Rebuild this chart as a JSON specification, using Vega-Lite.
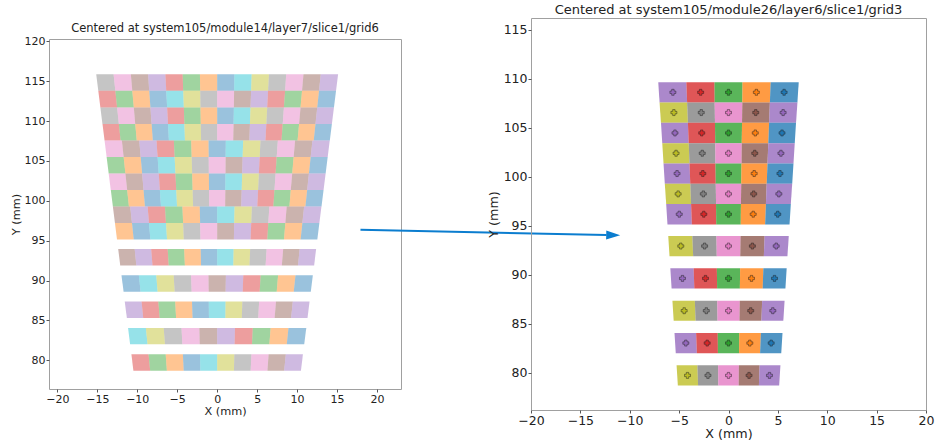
{
"$schema": "https://vega.github.io/schema/vega-lite/v6.json",
"background": "white",
"padding": {"left": 9, "top": 3, "right": 0, "bottom": 0},
"bounds": "flush",
"center": true,
"spacing": 130,
"config": {
  "font": "DejaVu Sans",
  "view": {"stroke": "#a0a0a0", "strokeWidth": 1},
  "axis": {"grid": false, "domain": false, "ticks": true, "tickColor": "#555", "tickSize": 3, "labelColor": "#222", "titleColor": "#222", "titleFontWeight": "normal", "labelPadding": 1, "labelFlush": false, "labelOverlap": false},
  "title": {"fontWeight": "normal", "color": "#222", "offset": 1, "frame": "group", "anchor": "middle"}
},
"datasets": {
"A": [{"x": 17.93, "y": 96.36, "x2": 48.71, "y2": 95.73, "hx": 49.55, "hy": 95.71}],
"L": [
{"i":1,"c":7,"y":[113.8,115.87],"a":[-14.87,-15.13],"b":[-12.74,-12.96]},
{"i":2,"c":6,"y":[113.8,115.87],"a":[-12.74,-12.96],"b":[-10.62,-10.8]},
{"i":3,"c":5,"y":[113.8,115.87],"a":[-10.62,-10.8],"b":[-8.5,-8.64]},
{"i":4,"c":4,"y":[113.8,115.87],"a":[-8.5,-8.64],"b":[-6.37,-6.48]},
{"i":5,"c":3,"y":[113.8,115.87],"a":[-6.37,-6.48],"b":[-4.25,-4.32]},
{"i":6,"c":2,"y":[113.8,115.87],"a":[-4.25,-4.32],"b":[-2.12,-2.16]},
{"i":7,"c":1,"y":[113.8,115.87],"a":[-2.12,-2.16],"b":[0,0]},
{"i":8,"c":0,"y":[113.8,115.87],"a":[0,0],"b":[2.12,2.16]},
{"i":9,"c":9,"y":[113.8,115.87],"a":[2.12,2.16],"b":[4.25,4.32]},
{"i":10,"c":8,"y":[113.8,115.87],"a":[4.25,4.32],"b":[6.37,6.48]},
{"i":11,"c":7,"y":[113.8,115.87],"a":[6.37,6.48],"b":[8.5,8.64]},
{"i":12,"c":6,"y":[113.8,115.87],"a":[8.5,8.64],"b":[10.62,10.8]},
{"i":13,"c":5,"y":[113.8,115.87],"a":[10.62,10.8],"b":[12.74,12.96]},
{"i":14,"c":4,"y":[113.8,115.87],"a":[12.74,12.96],"b":[14.87,15.13]},
{"i":15,"c":3,"y":[111.72,113.8],"a":[-14.61,-14.87],"b":[-12.52,-12.74]},
{"i":16,"c":2,"y":[111.72,113.8],"a":[-12.52,-12.74],"b":[-10.43,-10.62]},
{"i":17,"c":1,"y":[111.72,113.8],"a":[-10.43,-10.62],"b":[-8.35,-8.5]},
{"i":18,"c":0,"y":[111.72,113.8],"a":[-8.35,-8.5],"b":[-6.26,-6.37]},
{"i":19,"c":9,"y":[111.72,113.8],"a":[-6.26,-6.37],"b":[-4.17,-4.25]},
{"i":20,"c":8,"y":[111.72,113.8],"a":[-4.17,-4.25],"b":[-2.09,-2.12]},
{"i":21,"c":7,"y":[111.72,113.8],"a":[-2.09,-2.12],"b":[0,0]},
{"i":22,"c":6,"y":[111.72,113.8],"a":[0,0],"b":[2.09,2.12]},
{"i":23,"c":5,"y":[111.72,113.8],"a":[2.09,2.12],"b":[4.17,4.25]},
{"i":24,"c":4,"y":[111.72,113.8],"a":[4.17,4.25],"b":[6.26,6.37]},
{"i":25,"c":3,"y":[111.72,113.8],"a":[6.26,6.37],"b":[8.35,8.5]},
{"i":26,"c":2,"y":[111.72,113.8],"a":[8.35,8.5],"b":[10.43,10.62]},
{"i":27,"c":1,"y":[111.72,113.8],"a":[10.43,10.62],"b":[12.52,12.74]},
{"i":28,"c":0,"y":[111.72,113.8],"a":[12.52,12.74],"b":[14.61,14.87]},
{"i":29,"c":7,"y":[109.65,111.72],"a":[-14.35,-14.61],"b":[-12.3,-12.52]},
{"i":30,"c":6,"y":[109.65,111.72],"a":[-12.3,-12.52],"b":[-10.25,-10.43]},
{"i":31,"c":5,"y":[109.65,111.72],"a":[-10.25,-10.43],"b":[-8.2,-8.35]},
{"i":32,"c":4,"y":[109.65,111.72],"a":[-8.2,-8.35],"b":[-6.15,-6.26]},
{"i":33,"c":3,"y":[109.65,111.72],"a":[-6.15,-6.26],"b":[-4.1,-4.17]},
{"i":34,"c":2,"y":[109.65,111.72],"a":[-4.1,-4.17],"b":[-2.05,-2.09]},
{"i":35,"c":1,"y":[109.65,111.72],"a":[-2.05,-2.09],"b":[0,0]},
{"i":36,"c":0,"y":[109.65,111.72],"a":[0,0],"b":[2.05,2.09]},
{"i":37,"c":9,"y":[109.65,111.72],"a":[2.05,2.09],"b":[4.1,4.17]},
{"i":38,"c":8,"y":[109.65,111.72],"a":[4.1,4.17],"b":[6.15,6.26]},
{"i":39,"c":7,"y":[109.65,111.72],"a":[6.15,6.26],"b":[8.2,8.35]},
{"i":40,"c":6,"y":[109.65,111.72],"a":[8.2,8.35],"b":[10.25,10.43]},
{"i":41,"c":5,"y":[109.65,111.72],"a":[10.25,10.43],"b":[12.3,12.52]},
{"i":42,"c":4,"y":[109.65,111.72],"a":[12.3,12.52],"b":[14.35,14.61]},
{"i":43,"c":3,"y":[107.58,109.65],"a":[-14.09,-14.35],"b":[-12.08,-12.3]},
{"i":44,"c":2,"y":[107.58,109.65],"a":[-12.08,-12.3],"b":[-10.06,-10.25]},
{"i":45,"c":1,"y":[107.58,109.65],"a":[-10.06,-10.25],"b":[-8.05,-8.2]},
{"i":46,"c":0,"y":[107.58,109.65],"a":[-8.05,-8.2],"b":[-6.04,-6.15]},
{"i":47,"c":9,"y":[107.58,109.65],"a":[-6.04,-6.15],"b":[-4.03,-4.1]},
{"i":48,"c":8,"y":[107.58,109.65],"a":[-4.03,-4.1],"b":[-2.01,-2.05]},
{"i":49,"c":7,"y":[107.58,109.65],"a":[-2.01,-2.05],"b":[0,0]},
{"i":50,"c":6,"y":[107.58,109.65],"a":[0,0],"b":[2.01,2.05]},
{"i":51,"c":5,"y":[107.58,109.65],"a":[2.01,2.05],"b":[4.03,4.1]},
{"i":52,"c":4,"y":[107.58,109.65],"a":[4.03,4.1],"b":[6.04,6.15]},
{"i":53,"c":3,"y":[107.58,109.65],"a":[6.04,6.15],"b":[8.05,8.2]},
{"i":54,"c":2,"y":[107.58,109.65],"a":[8.05,8.2],"b":[10.06,10.25]},
{"i":55,"c":1,"y":[107.58,109.65],"a":[10.06,10.25],"b":[12.08,12.3]},
{"i":56,"c":0,"y":[107.58,109.65],"a":[12.08,12.3],"b":[14.09,14.35]},
{"i":57,"c":6,"y":[105.51,107.58],"a":[-13.83,-14.09],"b":[-11.7,-11.92]},
{"i":58,"c":5,"y":[105.51,107.58],"a":[-11.7,-11.92],"b":[-9.57,-9.75]},
{"i":59,"c":4,"y":[105.51,107.58],"a":[-9.57,-9.75],"b":[-7.45,-7.59]},
{"i":60,"c":3,"y":[105.51,107.58],"a":[-7.45,-7.59],"b":[-5.32,-5.42]},
{"i":61,"c":2,"y":[105.51,107.58],"a":[-5.32,-5.42],"b":[-3.19,-3.25]},
{"i":62,"c":1,"y":[105.51,107.58],"a":[-3.19,-3.25],"b":[-1.06,-1.08]},
{"i":63,"c":0,"y":[105.51,107.58],"a":[-1.06,-1.08],"b":[1.06,1.08]},
{"i":64,"c":9,"y":[105.51,107.58],"a":[1.06,1.08],"b":[3.19,3.25]},
{"i":65,"c":8,"y":[105.51,107.58],"a":[3.19,3.25],"b":[5.32,5.42]},
{"i":66,"c":7,"y":[105.51,107.58],"a":[5.32,5.42],"b":[7.45,7.59]},
{"i":67,"c":6,"y":[105.51,107.58],"a":[7.45,7.59],"b":[9.57,9.75]},
{"i":68,"c":5,"y":[105.51,107.58],"a":[9.57,9.75],"b":[11.7,11.92]},
{"i":69,"c":4,"y":[105.51,107.58],"a":[11.7,11.92],"b":[13.83,14.09]},
{"i":70,"c":2,"y":[103.43,105.51],"a":[-13.57,-13.83],"b":[-11.48,-11.7]},
{"i":71,"c":1,"y":[103.43,105.51],"a":[-11.48,-11.7],"b":[-9.39,-9.57]},
{"i":72,"c":0,"y":[103.43,105.51],"a":[-9.39,-9.57],"b":[-7.31,-7.45]},
{"i":73,"c":9,"y":[103.43,105.51],"a":[-7.31,-7.45],"b":[-5.22,-5.32]},
{"i":74,"c":8,"y":[103.43,105.51],"a":[-5.22,-5.32],"b":[-3.13,-3.19]},
{"i":75,"c":7,"y":[103.43,105.51],"a":[-3.13,-3.19],"b":[-1.04,-1.06]},
{"i":76,"c":6,"y":[103.43,105.51],"a":[-1.04,-1.06],"b":[1.04,1.06]},
{"i":77,"c":5,"y":[103.43,105.51],"a":[1.04,1.06],"b":[3.13,3.19]},
{"i":78,"c":4,"y":[103.43,105.51],"a":[3.13,3.19],"b":[5.22,5.32]},
{"i":79,"c":3,"y":[103.43,105.51],"a":[5.22,5.32],"b":[7.31,7.45]},
{"i":80,"c":2,"y":[103.43,105.51],"a":[7.31,7.45],"b":[9.39,9.57]},
{"i":81,"c":1,"y":[103.43,105.51],"a":[9.39,9.57],"b":[11.48,11.7]},
{"i":82,"c":0,"y":[103.43,105.51],"a":[11.48,11.7],"b":[13.57,13.83]},
{"i":83,"c":6,"y":[101.36,103.43],"a":[-13.31,-13.57],"b":[-11.26,-11.48]},
{"i":84,"c":5,"y":[101.36,103.43],"a":[-11.26,-11.48],"b":[-9.21,-9.39]},
{"i":85,"c":4,"y":[101.36,103.43],"a":[-9.21,-9.39],"b":[-7.17,-7.31]},
{"i":86,"c":3,"y":[101.36,103.43],"a":[-7.17,-7.31],"b":[-5.12,-5.22]},
{"i":87,"c":2,"y":[101.36,103.43],"a":[-5.12,-5.22],"b":[-3.07,-3.13]},
{"i":88,"c":1,"y":[101.36,103.43],"a":[-3.07,-3.13],"b":[-1.02,-1.04]},
{"i":89,"c":0,"y":[101.36,103.43],"a":[-1.02,-1.04],"b":[1.02,1.04]},
{"i":90,"c":9,"y":[101.36,103.43],"a":[1.02,1.04],"b":[3.07,3.13]},
{"i":91,"c":8,"y":[101.36,103.43],"a":[3.07,3.13],"b":[5.12,5.22]},
{"i":92,"c":7,"y":[101.36,103.43],"a":[5.12,5.22],"b":[7.17,7.31]},
{"i":93,"c":6,"y":[101.36,103.43],"a":[7.17,7.31],"b":[9.21,9.39]},
{"i":94,"c":5,"y":[101.36,103.43],"a":[9.21,9.39],"b":[11.26,11.48]},
{"i":95,"c":4,"y":[101.36,103.43],"a":[11.26,11.48],"b":[13.31,13.57]},
{"i":96,"c":2,"y":[99.29,101.36],"a":[-13.05,-13.31],"b":[-11.04,-11.26]},
{"i":97,"c":1,"y":[99.29,101.36],"a":[-11.04,-11.26],"b":[-9.04,-9.21]},
{"i":98,"c":0,"y":[99.29,101.36],"a":[-9.04,-9.21],"b":[-7.03,-7.17]},
{"i":99,"c":9,"y":[99.29,101.36],"a":[-7.03,-7.17],"b":[-5.02,-5.12]},
{"i":100,"c":8,"y":[99.29,101.36],"a":[-5.02,-5.12],"b":[-3.01,-3.07]},
{"i":101,"c":7,"y":[99.29,101.36],"a":[-3.01,-3.07],"b":[-1,-1.02]},
{"i":102,"c":6,"y":[99.29,101.36],"a":[-1,-1.02],"b":[1,1.02]},
{"i":103,"c":5,"y":[99.29,101.36],"a":[1,1.02],"b":[3.01,3.07]},
{"i":104,"c":4,"y":[99.29,101.36],"a":[3.01,3.07],"b":[5.02,5.12]},
{"i":105,"c":3,"y":[99.29,101.36],"a":[5.02,5.12],"b":[7.03,7.17]},
{"i":106,"c":2,"y":[99.29,101.36],"a":[7.03,7.17],"b":[9.04,9.21]},
{"i":107,"c":1,"y":[99.29,101.36],"a":[9.04,9.21],"b":[11.04,11.26]},
{"i":108,"c":0,"y":[99.29,101.36],"a":[11.04,11.26],"b":[13.05,13.31]},
{"i":109,"c":5,"y":[97.21,99.29],"a":[-12.79,-13.05],"b":[-10.66,-10.88]},
{"i":110,"c":4,"y":[97.21,99.29],"a":[-10.66,-10.88],"b":[-8.53,-8.7]},
{"i":111,"c":3,"y":[97.21,99.29],"a":[-8.53,-8.7],"b":[-6.4,-6.53]},
{"i":112,"c":2,"y":[97.21,99.29],"a":[-6.4,-6.53],"b":[-4.26,-4.35]},
{"i":113,"c":1,"y":[97.21,99.29],"a":[-4.26,-4.35],"b":[-2.13,-2.18]},
{"i":114,"c":0,"y":[97.21,99.29],"a":[-2.13,-2.18],"b":[0,0]},
{"i":115,"c":9,"y":[97.21,99.29],"a":[0,0],"b":[2.13,2.18]},
{"i":116,"c":8,"y":[97.21,99.29],"a":[2.13,2.18],"b":[4.26,4.35]},
{"i":117,"c":7,"y":[97.21,99.29],"a":[4.26,4.35],"b":[6.4,6.53]},
{"i":118,"c":6,"y":[97.21,99.29],"a":[6.4,6.53],"b":[8.53,8.7]},
{"i":119,"c":5,"y":[97.21,99.29],"a":[8.53,8.7],"b":[10.66,10.88]},
{"i":120,"c":4,"y":[97.21,99.29],"a":[10.66,10.88],"b":[12.79,13.05]},
{"i":121,"c":1,"y":[95.14,97.21],"a":[-12.53,-12.79],"b":[-10.44,-10.66]},
{"i":122,"c":0,"y":[95.14,97.21],"a":[-10.44,-10.66],"b":[-8.36,-8.53]},
{"i":123,"c":9,"y":[95.14,97.21],"a":[-8.36,-8.53],"b":[-6.27,-6.4]},
{"i":124,"c":8,"y":[95.14,97.21],"a":[-6.27,-6.4],"b":[-4.18,-4.26]},
{"i":125,"c":7,"y":[95.14,97.21],"a":[-4.18,-4.26],"b":[-2.09,-2.13]},
{"i":126,"c":6,"y":[95.14,97.21],"a":[-2.09,-2.13],"b":[0,0]},
{"i":127,"c":5,"y":[95.14,97.21],"a":[0,0],"b":[2.09,2.13]},
{"i":128,"c":4,"y":[95.14,97.21],"a":[2.09,2.13],"b":[4.18,4.26]},
{"i":129,"c":3,"y":[95.14,97.21],"a":[4.18,4.26],"b":[6.27,6.4]},
{"i":130,"c":2,"y":[95.14,97.21],"a":[6.27,6.4],"b":[8.36,8.53]},
{"i":131,"c":1,"y":[95.14,97.21],"a":[8.36,8.53],"b":[10.44,10.66]},
{"i":132,"c":0,"y":[95.14,97.21],"a":[10.44,10.66],"b":[12.53,12.79]},
{"i":133,"c":5,"y":[91.9,93.96],"a":[-12.13,-12.38],"b":[-10.11,-10.32]},
{"i":134,"c":4,"y":[91.9,93.96],"a":[-10.11,-10.32],"b":[-8.09,-8.26]},
{"i":135,"c":3,"y":[91.9,93.96],"a":[-8.09,-8.26],"b":[-6.06,-6.19]},
{"i":136,"c":2,"y":[91.9,93.96],"a":[-6.06,-6.19],"b":[-4.04,-4.13]},
{"i":137,"c":1,"y":[91.9,93.96],"a":[-4.04,-4.13],"b":[-2.02,-2.06]},
{"i":138,"c":0,"y":[91.9,93.96],"a":[-2.02,-2.06],"b":[0,0]},
{"i":139,"c":9,"y":[91.9,93.96],"a":[0,0],"b":[2.02,2.06]},
{"i":140,"c":8,"y":[91.9,93.96],"a":[2.02,2.06],"b":[4.04,4.13]},
{"i":141,"c":7,"y":[91.9,93.96],"a":[4.04,4.13],"b":[6.06,6.19]},
{"i":142,"c":6,"y":[91.9,93.96],"a":[6.06,6.19],"b":[8.09,8.26]},
{"i":143,"c":5,"y":[91.9,93.96],"a":[8.09,8.26],"b":[10.11,10.32]},
{"i":144,"c":4,"y":[91.9,93.96],"a":[10.11,10.32],"b":[12.13,12.38]},
{"i":145,"c":0,"y":[88.6,90.66],"a":[-11.71,-11.97],"b":[-9.58,-9.8]},
{"i":146,"c":9,"y":[88.6,90.66],"a":[-9.58,-9.8],"b":[-7.45,-7.62]},
{"i":147,"c":8,"y":[88.6,90.66],"a":[-7.45,-7.62],"b":[-5.32,-5.44]},
{"i":148,"c":7,"y":[88.6,90.66],"a":[-5.32,-5.44],"b":[-3.19,-3.27]},
{"i":149,"c":6,"y":[88.6,90.66],"a":[-3.19,-3.27],"b":[-1.06,-1.09]},
{"i":150,"c":5,"y":[88.6,90.66],"a":[-1.06,-1.09],"b":[1.06,1.09]},
{"i":151,"c":4,"y":[88.6,90.66],"a":[1.06,1.09],"b":[3.19,3.27]},
{"i":152,"c":3,"y":[88.6,90.66],"a":[3.19,3.27],"b":[5.32,5.44]},
{"i":153,"c":2,"y":[88.6,90.66],"a":[5.32,5.44],"b":[7.45,7.62]},
{"i":154,"c":1,"y":[88.6,90.66],"a":[7.45,7.62],"b":[9.58,9.8]},
{"i":155,"c":0,"y":[88.6,90.66],"a":[9.58,9.8],"b":[11.71,11.97]},
{"i":156,"c":4,"y":[85.3,87.36],"a":[-11.3,-11.56],"b":[-9.25,-9.46]},
{"i":157,"c":3,"y":[85.3,87.36],"a":[-9.25,-9.46],"b":[-7.19,-7.36]},
{"i":158,"c":2,"y":[85.3,87.36],"a":[-7.19,-7.36],"b":[-5.14,-5.25]},
{"i":159,"c":1,"y":[85.3,87.36],"a":[-5.14,-5.25],"b":[-3.08,-3.15]},
{"i":160,"c":0,"y":[85.3,87.36],"a":[-3.08,-3.15],"b":[-1.03,-1.05]},
{"i":161,"c":9,"y":[85.3,87.36],"a":[-1.03,-1.05],"b":[1.03,1.05]},
{"i":162,"c":8,"y":[85.3,87.36],"a":[1.03,1.05],"b":[3.08,3.15]},
{"i":163,"c":7,"y":[85.3,87.36],"a":[3.08,3.15],"b":[5.14,5.25]},
{"i":164,"c":6,"y":[85.3,87.36],"a":[5.14,5.25],"b":[7.19,7.36]},
{"i":165,"c":5,"y":[85.3,87.36],"a":[7.19,7.36],"b":[9.25,9.46]},
{"i":166,"c":4,"y":[85.3,87.36],"a":[9.25,9.46],"b":[11.3,11.56]},
{"i":167,"c":9,"y":[82,84.06],"a":[-10.89,-11.15],"b":[-8.71,-8.92]},
{"i":168,"c":8,"y":[82,84.06],"a":[-8.71,-8.92],"b":[-6.53,-6.69]},
{"i":169,"c":7,"y":[82,84.06],"a":[-6.53,-6.69],"b":[-4.36,-4.46]},
{"i":170,"c":6,"y":[82,84.06],"a":[-4.36,-4.46],"b":[-2.18,-2.23]},
{"i":171,"c":5,"y":[82,84.06],"a":[-2.18,-2.23],"b":[0,0]},
{"i":172,"c":4,"y":[82,84.06],"a":[0,0],"b":[2.18,2.23]},
{"i":173,"c":3,"y":[82,84.06],"a":[2.18,2.23],"b":[4.36,4.46]},
{"i":174,"c":2,"y":[82,84.06],"a":[4.36,4.46],"b":[6.53,6.69]},
{"i":175,"c":1,"y":[82,84.06],"a":[6.53,6.69],"b":[8.71,8.92]},
{"i":176,"c":0,"y":[82,84.06],"a":[8.71,8.92],"b":[10.89,11.15]},
{"i":177,"c":3,"y":[78.7,80.76],"a":[-10.48,-10.73],"b":[-8.38,-8.59]},
{"i":178,"c":2,"y":[78.7,80.76],"a":[-8.38,-8.59],"b":[-6.29,-6.44]},
{"i":179,"c":1,"y":[78.7,80.76],"a":[-6.29,-6.44],"b":[-4.19,-4.29]},
{"i":180,"c":0,"y":[78.7,80.76],"a":[-4.19,-4.29],"b":[-2.1,-2.15]},
{"i":181,"c":9,"y":[78.7,80.76],"a":[-2.1,-2.15],"b":[0,0]},
{"i":182,"c":8,"y":[78.7,80.76],"a":[0,0],"b":[2.1,2.15]},
{"i":183,"c":7,"y":[78.7,80.76],"a":[2.1,2.15],"b":[4.19,4.29]},
{"i":184,"c":6,"y":[78.7,80.76],"a":[4.19,4.29],"b":[6.29,6.44]},
{"i":185,"c":5,"y":[78.7,80.76],"a":[6.29,6.44],"b":[8.38,8.59]},
{"i":186,"c":4,"y":[78.7,80.76],"a":[8.38,8.59],"b":[10.48,10.73]}
],
"R": [
{"i":1,"c":4,"y":[107.58,109.65],"a":[-6.98,-7.11],"b":[-4.19,-4.27],"x":-5.63,"v":108.62},
{"i":2,"c":3,"y":[107.58,109.65],"a":[-4.19,-4.27],"b":[-1.4,-1.42],"x":-2.82,"v":108.62},
{"i":3,"c":2,"y":[107.58,109.65],"a":[-1.4,-1.42],"b":[1.4,1.42],"x":0,"v":108.62},
{"i":4,"c":1,"y":[107.58,109.65],"a":[1.4,1.42],"b":[4.19,4.27],"x":2.82,"v":108.62},
{"i":5,"c":0,"y":[107.58,109.65],"a":[4.19,4.27],"b":[6.98,7.11],"x":5.63,"v":108.62},
{"i":6,"c":8,"y":[105.51,107.58],"a":[-6.84,-6.98],"b":[-4.11,-4.19],"x":-5.53,"v":106.55},
{"i":7,"c":7,"y":[105.51,107.58],"a":[-4.11,-4.19],"b":[-1.37,-1.4],"x":-2.76,"v":106.55},
{"i":8,"c":6,"y":[105.51,107.58],"a":[-1.37,-1.4],"b":[1.37,1.4],"x":0,"v":106.55},
{"i":9,"c":5,"y":[105.51,107.58],"a":[1.37,1.4],"b":[4.11,4.19],"x":2.76,"v":106.55},
{"i":10,"c":4,"y":[105.51,107.58],"a":[4.11,4.19],"b":[6.84,6.98],"x":5.53,"v":106.55},
{"i":11,"c":4,"y":[103.43,105.51],"a":[-6.71,-6.84],"b":[-4.03,-4.11],"x":-5.42,"v":104.47},
{"i":12,"c":3,"y":[103.43,105.51],"a":[-4.03,-4.11],"b":[-1.34,-1.37],"x":-2.71,"v":104.47},
{"i":13,"c":2,"y":[103.43,105.51],"a":[-1.34,-1.37],"b":[1.34,1.37],"x":0,"v":104.47},
{"i":14,"c":1,"y":[103.43,105.51],"a":[1.34,1.37],"b":[4.03,4.11],"x":2.71,"v":104.47},
{"i":15,"c":0,"y":[103.43,105.51],"a":[4.03,4.11],"b":[6.71,6.84],"x":5.42,"v":104.47},
{"i":16,"c":8,"y":[101.36,103.43],"a":[-6.58,-6.71],"b":[-3.95,-4.03],"x":-5.31,"v":102.4},
{"i":17,"c":7,"y":[101.36,103.43],"a":[-3.95,-4.03],"b":[-1.32,-1.34],"x":-2.66,"v":102.4},
{"i":18,"c":6,"y":[101.36,103.43],"a":[-1.32,-1.34],"b":[1.32,1.34],"x":0,"v":102.4},
{"i":19,"c":5,"y":[101.36,103.43],"a":[1.32,1.34],"b":[3.95,4.03],"x":2.66,"v":102.4},
{"i":20,"c":4,"y":[101.36,103.43],"a":[3.95,4.03],"b":[6.58,6.71],"x":5.31,"v":102.4},
{"i":21,"c":4,"y":[99.29,101.36],"a":[-6.45,-6.58],"b":[-3.87,-3.95],"x":-5.21,"v":100.33},
{"i":22,"c":3,"y":[99.29,101.36],"a":[-3.87,-3.95],"b":[-1.29,-1.32],"x":-2.6,"v":100.33},
{"i":23,"c":2,"y":[99.29,101.36],"a":[-1.29,-1.32],"b":[1.29,1.32],"x":0,"v":100.33},
{"i":24,"c":1,"y":[99.29,101.36],"a":[1.29,1.32],"b":[3.87,3.95],"x":2.6,"v":100.33},
{"i":25,"c":0,"y":[99.29,101.36],"a":[3.87,3.95],"b":[6.45,6.58],"x":5.21,"v":100.33},
{"i":26,"c":8,"y":[97.21,99.29],"a":[-6.31,-6.45],"b":[-3.79,-3.87],"x":-5.1,"v":98.25},
{"i":27,"c":7,"y":[97.21,99.29],"a":[-3.79,-3.87],"b":[-1.26,-1.29],"x":-2.55,"v":98.25},
{"i":28,"c":6,"y":[97.21,99.29],"a":[-1.26,-1.29],"b":[1.26,1.29],"x":0,"v":98.25},
{"i":29,"c":5,"y":[97.21,99.29],"a":[1.26,1.29],"b":[3.79,3.87],"x":2.55,"v":98.25},
{"i":30,"c":4,"y":[97.21,99.29],"a":[3.79,3.87],"b":[6.31,6.45],"x":5.1,"v":98.25},
{"i":31,"c":4,"y":[95.14,97.21],"a":[-6.18,-6.31],"b":[-3.71,-3.79],"x":-4.99,"v":96.18},
{"i":32,"c":3,"y":[95.14,97.21],"a":[-3.71,-3.79],"b":[-1.24,-1.26],"x":-2.5,"v":96.18},
{"i":33,"c":2,"y":[95.14,97.21],"a":[-1.24,-1.26],"b":[1.24,1.26],"x":0,"v":96.18},
{"i":34,"c":1,"y":[95.14,97.21],"a":[1.24,1.26],"b":[3.71,3.79],"x":2.5,"v":96.18},
{"i":35,"c":0,"y":[95.14,97.21],"a":[3.71,3.79],"b":[6.18,6.31],"x":4.99,"v":96.18},
{"i":36,"c":8,"y":[91.9,93.96],"a":[-5.97,-6.1],"b":[-3.58,-3.66],"x":-4.83,"v":92.93},
{"i":37,"c":7,"y":[91.9,93.96],"a":[-3.58,-3.66],"b":[-1.19,-1.22],"x":-2.42,"v":92.93},
{"i":38,"c":6,"y":[91.9,93.96],"a":[-1.19,-1.22],"b":[1.19,1.22],"x":0,"v":92.93},
{"i":39,"c":5,"y":[91.9,93.96],"a":[1.19,1.22],"b":[3.58,3.66],"x":2.42,"v":92.93},
{"i":40,"c":4,"y":[91.9,93.96],"a":[3.58,3.66],"b":[5.97,6.1],"x":4.83,"v":92.93},
{"i":41,"c":4,"y":[88.6,90.66],"a":[-5.76,-5.89],"b":[-3.46,-3.53],"x":-4.66,"v":89.63},
{"i":42,"c":3,"y":[88.6,90.66],"a":[-3.46,-3.53],"b":[-1.15,-1.18],"x":-2.33,"v":89.63},
{"i":43,"c":2,"y":[88.6,90.66],"a":[-1.15,-1.18],"b":[1.15,1.18],"x":0,"v":89.63},
{"i":44,"c":1,"y":[88.6,90.66],"a":[1.15,1.18],"b":[3.46,3.53],"x":2.33,"v":89.63},
{"i":45,"c":0,"y":[88.6,90.66],"a":[3.46,3.53],"b":[5.76,5.89],"x":4.66,"v":89.63},
{"i":46,"c":8,"y":[85.3,87.36],"a":[-5.55,-5.68],"b":[-3.33,-3.41],"x":-4.49,"v":86.33},
{"i":47,"c":7,"y":[85.3,87.36],"a":[-3.33,-3.41],"b":[-1.11,-1.14],"x":-2.25,"v":86.33},
{"i":48,"c":6,"y":[85.3,87.36],"a":[-1.11,-1.14],"b":[1.11,1.14],"x":0,"v":86.33},
{"i":49,"c":5,"y":[85.3,87.36],"a":[1.11,1.14],"b":[3.33,3.41],"x":2.25,"v":86.33},
{"i":50,"c":4,"y":[85.3,87.36],"a":[3.33,3.41],"b":[5.55,5.68],"x":4.49,"v":86.33},
{"i":51,"c":4,"y":[82,84.06],"a":[-5.34,-5.47],"b":[-3.2,-3.28],"x":-4.32,"v":83.03},
{"i":52,"c":3,"y":[82,84.06],"a":[-3.2,-3.28],"b":[-1.07,-1.09],"x":-2.16,"v":83.03},
{"i":53,"c":2,"y":[82,84.06],"a":[-1.07,-1.09],"b":[1.07,1.09],"x":0,"v":83.03},
{"i":54,"c":1,"y":[82,84.06],"a":[1.07,1.09],"b":[3.2,3.28],"x":2.16,"v":83.03},
{"i":55,"c":0,"y":[82,84.06],"a":[3.2,3.28],"b":[5.34,5.47],"x":4.32,"v":83.03},
{"i":56,"c":8,"y":[78.7,80.76],"a":[-5.13,-5.26],"b":[-3.08,-3.15],"x":-4.15,"v":79.73},
{"i":57,"c":7,"y":[78.7,80.76],"a":[-3.08,-3.15],"b":[-1.03,-1.05],"x":-2.08,"v":79.73},
{"i":58,"c":6,"y":[78.7,80.76],"a":[-1.03,-1.05],"b":[1.03,1.05],"x":0,"v":79.73},
{"i":59,"c":5,"y":[78.7,80.76],"a":[1.03,1.05],"b":[3.08,3.15],"x":2.08,"v":79.73},
{"i":60,"c":4,"y":[78.7,80.76],"a":[3.08,3.15],"b":[5.13,5.26],"x":4.15,"v":79.73}
]
},
"hconcat": [
{
  "width": 352,
  "height": 350,
  "title": {"text": "Centered at system105/module14/layer7/slice1/grid6", "fontSize": 11.5},
  "layer": [
    {
      "data": {"name": "L"},
      "transform": [{"flatten": ["y", "a", "b"]}],
      "mark": {"type": "area", "orient": "horizontal", "opacity": 0.45},
      "encoding": {
        "y": {"field": "y", "type": "quantitative", "title": "Y (mm)", "scale": {"domain": [76.4, 120.3], "nice": false, "zero": false},
              "axis": {"values": [80, 85, 90, 95, 100, 105, 110, 115, 120], "labelFontSize": 11, "titleFontSize": 11.3, "titlePadding": 3}},
        "x": {"field": "a", "type": "quantitative", "stack": null, "title": "X (mm)", "scale": {"domain": [-21.04, 23], "nice": false, "zero": false},
              "axis": {"values": [-20, -15, -10, -5, 0, 5, 10, 15, 20], "labelFontSize": 11, "titleFontSize": 11.3, "titlePadding": 1}},
        "x2": {"field": "b"},
        "color": {"field": "c", "type": "nominal", "legend": null,
                  "scale": {"domain": [0, 1, 2, 3, 4, 5, 6, 7, 8, 9], "range": ["#1f77b4", "#ff7f0e", "#2ca02c", "#d62728", "#9467bd", "#8c564b", "#e377c2", "#7f7f7f", "#bcbd22", "#17becf"]}},
        "detail": {"field": "i", "type": "nominal"}
      }
    },
    {
      "data": {"name": "A"},
      "mark": {"type": "rule", "color": "#0b7dcf", "strokeWidth": 2, "clip": false},
      "encoding": {
        "x": {"field": "x", "type": "quantitative", "title": "X (mm)", "scale": {"domain": [-21.04, 23], "nice": false, "zero": false}},
        "y": {"field": "y", "type": "quantitative", "title": "Y (mm)", "scale": {"domain": [76.4, 120.3], "nice": false, "zero": false}},
        "x2": {"field": "x2"},
        "y2": {"field": "y2"}
      }
    },
    {
      "data": {"name": "A"},
      "mark": {"type": "point", "shape": "M-1,-0.64L1,0L-1,0.64Z", "filled": true, "size": 196, "color": "#0b7dcf", "opacity": 1, "angle": 1.2, "clip": false},
      "encoding": {
        "x": {"field": "hx", "type": "quantitative", "title": "X (mm)", "scale": {"domain": [-21.04, 23], "nice": false, "zero": false}},
        "y": {"field": "hy", "type": "quantitative", "title": "Y (mm)", "scale": {"domain": [76.4, 120.3], "nice": false, "zero": false}}
      }
    }
  ]
},
{
  "width": 395,
  "height": 392,
  "title": {"text": "Centered at system105/module26/layer6/slice1/grid3", "fontSize": 13},
  "data": {"name": "R"},
  "layer": [
    {
      "transform": [{"flatten": ["y", "a", "b"]}],
      "mark": {"type": "area", "orient": "horizontal", "opacity": 0.78},
      "encoding": {
        "y": {"field": "y", "type": "quantitative", "title": "Y (mm)", "scale": {"domain": [76.2, 116.2], "nice": false, "zero": false},
              "axis": {"values": [80, 85, 90, 95, 100, 105, 110, 115], "labelFontSize": 12.5, "titleFontSize": 12.7, "titlePadding": 3}},
        "x": {"field": "a", "type": "quantitative", "stack": null, "title": "X (mm)", "scale": {"domain": [-20, 20], "nice": false, "zero": false},
              "axis": {"values": [-20, -15, -10, -5, 0, 5, 10, 15, 20], "labelFontSize": 12.5, "titleFontSize": 12.7, "titlePadding": 1}},
        "x2": {"field": "b"},
        "color": {"field": "c", "type": "nominal", "legend": null,
                  "scale": {"domain": [0, 1, 2, 3, 4, 5, 6, 7, 8, 9], "range": ["#1f77b4", "#ff7f0e", "#2ca02c", "#d62728", "#9467bd", "#8c564b", "#e377c2", "#7f7f7f", "#bcbd22", "#17becf"]}},
        "detail": {"field": "i", "type": "nominal"}
      }
    },
    {
      "mark": {"type": "point", "shape": "cross", "filled": true, "size": 36, "opacity": 1, "stroke": "#222222", "strokeWidth": 0.6, "strokeOpacity": 0.8},
      "encoding": {
        "x": {"field": "x", "type": "quantitative", "title": "X (mm)", "scale": {"domain": [-20, 20], "nice": false, "zero": false}},
        "y": {"field": "v", "type": "quantitative", "title": "Y (mm)", "scale": {"domain": [76.2, 116.2], "nice": false, "zero": false}},
        "color": {"field": "c", "type": "nominal", "legend": null,
                  "scale": {"domain": [0, 1, 2, 3, 4, 5, 6, 7, 8, 9], "range": ["#1f77b4", "#ff7f0e", "#2ca02c", "#d62728", "#9467bd", "#8c564b", "#e377c2", "#7f7f7f", "#bcbd22", "#17becf"]}}
      }
    }
  ]
}
]
}
